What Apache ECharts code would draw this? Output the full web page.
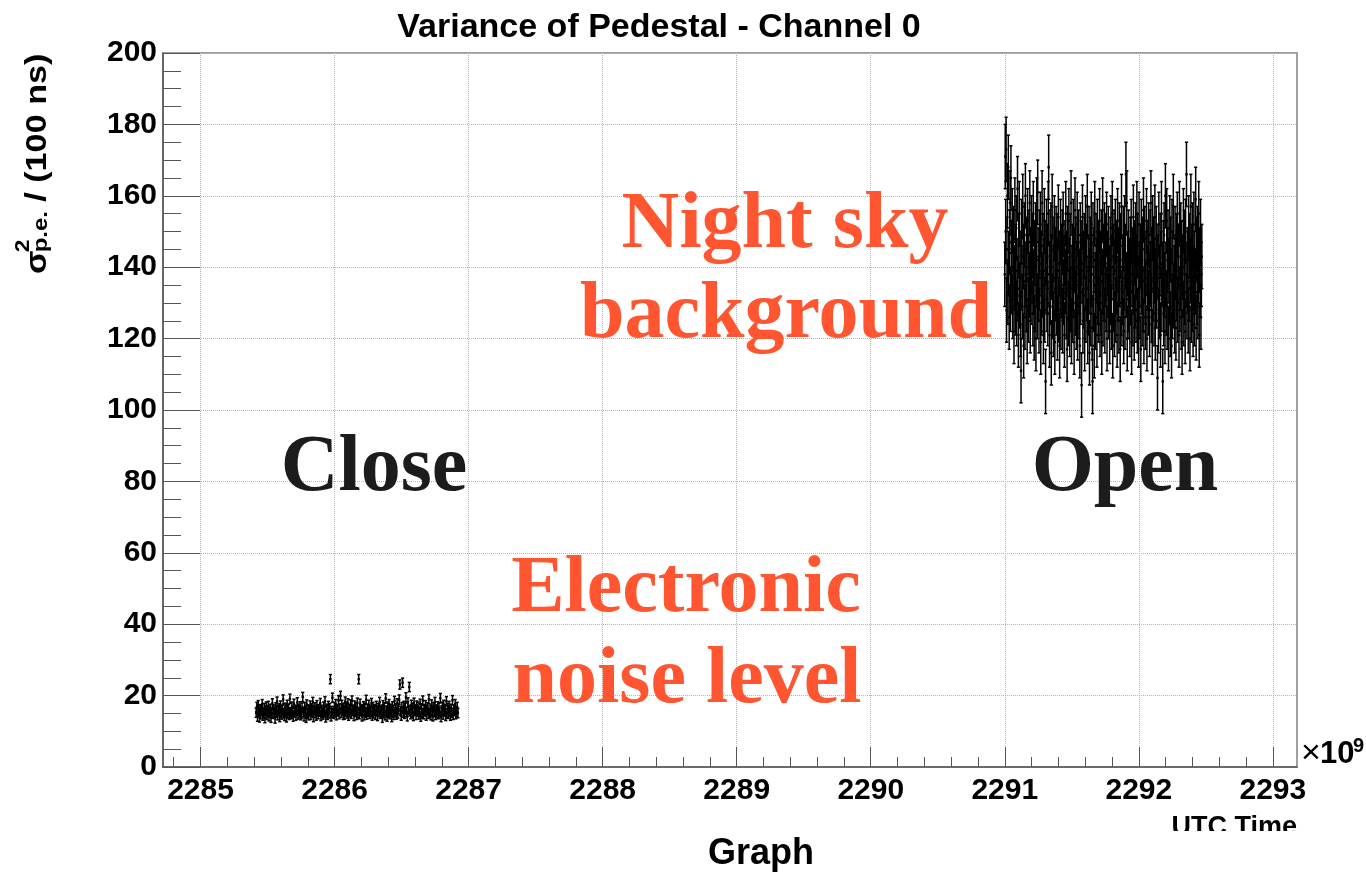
<!DOCTYPE html>
<html>
<head>
<meta charset="utf-8">
<title>Variance of Pedestal - Channel 0</title>
<script src="https://cdn.jsdelivr.net/npm/echarts@6/dist/echarts.min.js"></script>
<style>
  html, body { margin: 0; padding: 0; background: #fff; }
  #chart { width: 1366px; height: 876px; }
</style>
</head>
<body>
<div id="chart"></div>
<script>
// UTC time axis, in units of 1e9 s
const xMin = 2284.72;
const xMax = 2293.18;
const xMajorTicks = [2285, 2286, 2287, 2288, 2289, 2290, 2291, 2292, 2293];
const yTicks = [0, 20, 40, 60, 80, 100, 120, 140, 160, 180, 200];

// Lid closed: electronic noise only
const closeStart = 2285.415;
const closeEnd = 2286.92;
const closeErr = 1.3;
const closeValues = [
  15.2,16.8,14.1,17.3,15.6,13.9,16.2,14.8,15.9,17.6,14.4,15.1,16.5,13.7,15.8,16.9,14.6,15.3,17.1,14.2,15.7,16.3,13.8,15.0,17.8,14.9,16.1,15.4,13.6,16.7,
  15.2,18.3,14.5,15.9,16.4,14.0,17.2,15.5,14.7,16.0,18.9,15.1,14.3,16.6,15.8,13.9,17.4,15.0,16.2,14.6,19.1,15.3,14.8,16.9,15.6,14.1,17.7,15.2,16.0,14.4,
  15.9,18.1,14.7,16.3,15.1,17.0,14.5,14.9,16.6,19.6,15.4,14.2,16.8,15.7,13.8,17.5,15.0,16.1,14.5,15.8,17.2,14.6,16.4,15.3,18.2,14.0,15.9,16.7,15.1,14.4,
  17.3,15.6,14.8,16.2,15.5,17.9,14.3,16.0,15.2,14.7,16.9,15.4,18.4,13.9,15.8,16.3,14.6,17.1,15.0,16.5,24.6,14.2,15.7,19.4,15.1,14.9,16.8,15.3,17.6,14.5,
  16.1,15.6,18.7,14.8,16.4,19.9,15.2,17.4,15.9,14.6,16.6,14.7,18.3,15.5,16.9,15.0,17.8,14.4,16.2,15.3,17.5,14.9,18.6,15.7,16.0,14.3,17.2,15.4,16.7,14.6,
  18.0,15.1,24.6,14.8,17.7,15.6,16.1,14.2,15.9,17.0,14.5,16.6,15.2,18.8,14.7,16.3,15.5,17.4,14.9,16.0,15.3,17.9,14.4,16.8,15.0,16.2,15.7,14.6,17.1,15.8,
  14.3,16.5,15.4,18.2,14.9,16.0,15.6,13.8,17.3,15.1,16.7,14.5,19.2,15.8,14.1,16.9,15.2,17.6,14.8,16.3,15.5,14.0,17.0,15.9,14.6,18.5,15.3,16.4,14.7,17.8,
  15.0,16.2,18.9,23.1,15.7,14.4,16.8,23.6,15.2,17.1,14.9,16.5,19.5,15.4,14.2,18.1,16.0,22.4,15.6,14.8,17.4,15.1,16.6,14.3,18.0,15.8,16.1,14.6,17.2,15.5,
  16.9,14.7,15.3,17.7,14.1,16.4,15.0,18.6,14.8,16.2,15.6,17.3,14.4,15.9,16.7,14.9,19.0,15.2,16.0,14.5,17.5,15.7,14.2,16.8,15.4,18.2,14.6,16.1,15.1,17.0,
  14.8,16.6,15.3,19.3,14.0,15.8,16.9,14.7,17.4,15.5,16.2,14.3,18.4,15.0,16.5,14.9,17.1,15.6,14.4,16.3,15.2,18.7,14.6,16.0,15.7,17.6,14.8,15.4,16.8,15.1
];

// Lid open: night sky background
const openStart = 2291.00;
const openEnd = 2292.47;
const openErr = 9;
const openValues = [
  138,171,150,173,128,145,160,133,168,141,126,147,158,131,165,144,136,153,129,140,148,122,137,156,130,143,151,127,139,162,
  134,121,146,155,132,141,124,111,150,137,129,157,143,118,136,149,126,160,138,131,145,122,153,140,128,147,135,158,125,142,
  133,151,139,146,127,155,136,123,144,131,149,120,138,156,129,161,142,134,125,147,137,152,119,141,130,158,135,146,122,139,
  153,128,144,108,136,150,131,143,127,155,168,138,121,147,133,149,116,140,157,129,145,124,137,151,119,134,142,148,130,146,
  123,139,154,128,141,118,136,150,126,143,135,147,125,152,133,140,121,144,136,155,129,141,117,148,134,127,153,139,124,146,
  131,158,122,137,143,128,150,135,119,142,156,130,145,126,138,152,123,140,147,129,136,118,149,133,144,107,139,154,125,141,
  132,146,120,137,151,128,143,134,157,122,140,130,148,116,136,145,127,152,138,123,108,149,131,142,118,155,135,126,146,139,
  121,150,133,144,128,137,153,124,141,130,147,119,136,156,127,143,134,149,125,138,146,131,152,120,141,135,148,129,137,122,
  145,133,151,126,140,155,118,143,131,147,124,139,150,128,144,136,121,153,134,142,125,149,138,117,146,130,157,127,140,133,
  148,122,137,151,126,143,166,135,158,120,141,131,147,129,139,124,145,133,150,119,138,142,127,154,136,123,144,132,149,128,
  140,155,125,146,134,121,152,138,129,143,117,150,136,127,145,131,156,122,139,148,133,126,141,153,120,137,144,130,149,135,
  124,147,138,158,128,142,119,151,134,145,127,139,154,123,136,148,132,143,109,140,125,152,137,129,146,121,141,155,131,138,
  108,144,127,149,135,122,160,138,130,153,126,142,147,120,139,133,151,124,145,136,118,150,129,141,157,132,137,125,148,140,
  123,146,134,152,128,139,143,121,155,131,137,149,126,144,119,140,135,153,127,147,133,122,150,138,166,129,142,136,125,151,
  134,146,120,139,157,128,143,131,149,124,137,152,127,141,136,159,123,145,133,148,129,139,155,121,142,135,150,126,138,143
];

// minor ticks every 0.2 between the labelled ones
const xMinorTicks = [];
for (let k = 11424; k <= 11465; k++) {
  if (k % 5 !== 0) xMinorTicks.push(k / 5);
}

// regularly sampled points: [time, value, error]
function toPoints(values, start, end, err) {
  const n = values.length;
  const step = (end - start) / (n - 1);
  return values.map((v, i) => [start + i * step, v, err]);
}

function renderErrorBar(params, api) {
  const x = api.value(0);
  const v = api.value(1);
  const e = api.value(2);
  const hi = api.coord([x, v + e]);
  const lo = api.coord([x, v - e]);
  const mid = api.coord([x, v]);
  const cap = 1.6;
  const stroke = { stroke: '#000', lineWidth: 1.5 };
  return {
    type: 'group',
    children: [
      { type: 'line', shape: { x1: hi[0], y1: hi[1], x2: lo[0], y2: lo[1] }, style: stroke },
      { type: 'line', shape: { x1: hi[0] - cap, y1: hi[1], x2: hi[0] + cap, y2: hi[1] }, style: stroke },
      { type: 'line', shape: { x1: lo[0] - cap, y1: lo[1], x2: lo[0] + cap, y2: lo[1] }, style: stroke },
      { type: 'rect', shape: { x: mid[0] - 1.2, y: mid[1] - 1.2, width: 2.4, height: 2.4 }, style: { fill: '#000' } }
    ]
  };
}

const SANS = '"Liberation Sans", Arial, Helvetica, sans-serif';
const SERIF = '"Liberation Serif", "Times New Roman", serif';
const ORANGE = '#ff5631';

function label(text, x, y, size, color, family, align, weight) {
  return {
    type: 'text', x: x, y: y, silent: true, z: 10,
    style: {
      text: text, fill: color, align: align || 'center', verticalAlign: 'middle',
      font: (weight || 'bold') + ' ' + size + 'px ' + family
    }
  };
}

const chart = echarts.init(document.getElementById('chart'), null, { renderer: 'canvas' });

chart.setOption({
  animation: false,
  backgroundColor: '#fff',
  grid: {
    left: 163, top: 53, right: 69, bottom: 109,
    show: true, borderColor: '#a0a0a0', borderWidth: 2, backgroundColor: 'transparent'
  },
  xAxis: [
    {
      type: 'value', position: 'bottom', min: xMin, max: xMax,
      axisLine: { show: true, onZero: false, lineStyle: { color: '#555', width: 1.5 } },
      axisTick: { show: true, inside: true, length: 20, customValues: xMajorTicks, lineStyle: { color: '#555', width: 1 } },
      axisLabel: {
        show: true, customValues: xMajorTicks, margin: 9,
        formatter: v => String(v),
        color: '#000', fontFamily: SANS, fontWeight: 'bold', fontSize: 30
      },
      splitLine: { show: true, lineStyle: { color: '#b4b4b4', type: 'dotted', width: 1 } }
    },
    {
      type: 'value', position: 'bottom', min: xMin, max: xMax,
      axisLine: { show: false },
      axisTick: { show: true, inside: true, length: 10, customValues: xMinorTicks, lineStyle: { color: '#555', width: 1 } },
      axisLabel: { show: false },
      splitLine: { show: false }
    }
  ],
  yAxis: {
    type: 'value', min: yTicks[0], max: yTicks[yTicks.length - 1], interval: 20,
    axisLine: { show: true, onZero: false, lineStyle: { color: '#555', width: 1.5 } },
    axisTick: { show: true, inside: true, length: 37, lineStyle: { color: '#555', width: 1 } },
    minorTick: { show: true, splitNumber: 4, length: 18, lineStyle: { color: '#555', width: 1 } },
    axisLabel: { color: '#000', fontFamily: SANS, fontWeight: 'bold', fontSize: 30, margin: 6 },
    splitLine: { show: true, lineStyle: { color: '#b4b4b4', type: 'dotted', width: 1 } }
  },
  series: [
    {
      name: 'Close', type: 'custom', renderItem: renderErrorBar, silent: true, clip: true,
      dimensions: ['time', 'variance', 'error'],
      encode: { x: 0, y: 1 },
      data: toPoints(closeValues, closeStart, closeEnd, closeErr)
    },
    {
      name: 'Open', type: 'custom', renderItem: renderErrorBar, silent: true, clip: true,
      dimensions: ['time', 'variance', 'error'],
      encode: { x: 0, y: 1 },
      data: toPoints(openValues, openStart, openEnd, openErr)
    }
  ],
  graphic: [
    label('Variance of Pedestal - Channel 0', 659, 28, 34, '#000', SANS),
    // y-axis title, rotated to read bottom to top
    {
      type: 'group', x: 48, y: 274, rotation: Math.PI / 2, scaleX: 1.14, silent: true,
      children: [
        label('σ', 0, -10.4, 30, '#000', SANS, 'left'),
        label('2', 19, -25, 20, '#000', SANS, 'left'),
        label('p.e.', 19, -7, 21, '#000', SANS, 'left'),
        label(' / (100 ns)', 55, -10.4, 30, '#000', SANS, 'left')
      ]
    },
    // axis exponent
    label('×', 1301, 754, 34, '#000', SANS, 'left', 'normal'),
    label('10', 1320, 754, 31, '#000', SANS, 'left'),
    label('9', 1353, 746, 20, '#000', SANS, 'left'),
    // axis names
    label('UTC Time', 1297, 828, 27, '#000', SANS, 'right'),
    { type: 'rect', shape: { x: 1150, y: 831, width: 216, height: 45 }, style: { fill: '#fff' }, z: 11, silent: true },
    label('Graph', 761, 854, 36, '#000', SANS),
    // annotations
    label('Night sky', 785, 226, 80, ORANGE, SERIF),
    label('background', 786, 316, 80, ORANGE, SERIF),
    label('Close', 374, 469, 80, '#1c1c1c', SERIF),
    label('Open', 1125, 469, 80, '#1c1c1c', SERIF),
    label('Electronic', 686, 590, 80, ORANGE, SERIF),
    label('noise level', 687, 681, 80, ORANGE, SERIF)
  ]
});
</script>
</body>
</html>
